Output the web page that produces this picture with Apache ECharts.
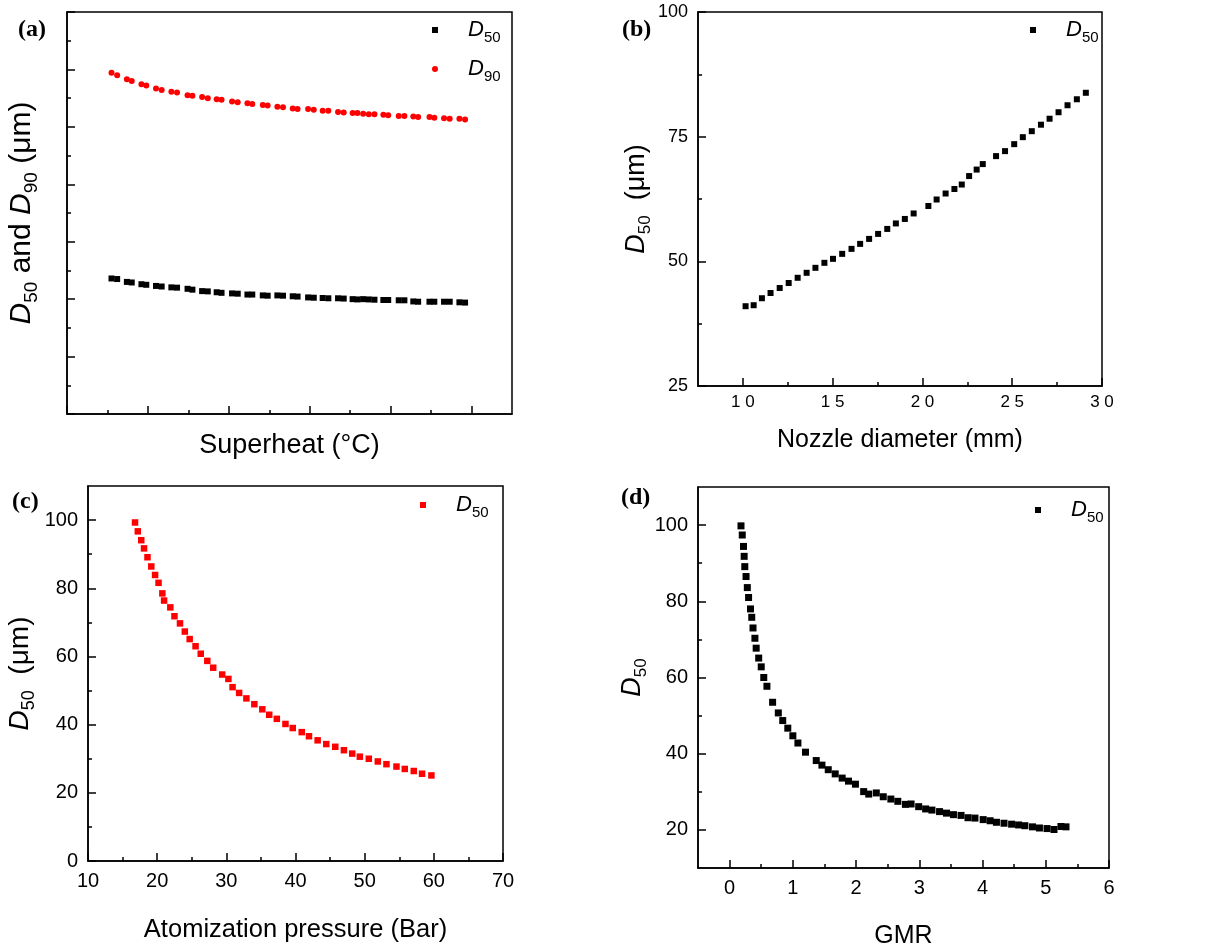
<!DOCTYPE html>
<html>
<head>
<meta charset="utf-8">
<script src="https://cdn.jsdelivr.net/npm/echarts@6/dist/echarts.min.js"></script>
<style>
  html, body { margin: 0; padding: 0; background: #fff; }
  #chart { width: 1215px; height: 950px; }
</style>
</head>
<body>
<div id="chart"></div>
<script>
// ---------------- DATA ----------------
// (a) Superheat (axis unlabelled in the original)
const superheatX = [5.5,6.2,7.4,8.0,9.2,9.8,11.0,11.7,12.9,13.6,14.9,15.5,16.7,17.4,18.5,19.1,20.4,21.1,22.3,22.9,24.2,24.8,26.0,26.7,27.9,28.5,29.8,30.5,31.6,32.3,33.5,34.2,35.3,35.9,36.6,37.3,38.0,39.1,39.7,41.0,41.7,42.8,43.4,44.8,45.4,46.6,47.3,48.5,49.2];
const d50Superheat = [23.6,23.5,23.0,22.9,22.6,22.5,22.3,22.2,22.05,22.0,21.8,21.65,21.4,21.35,21.2,21.1,21.0,20.95,20.8,20.8,20.65,20.6,20.65,20.6,20.5,20.45,20.3,20.25,20.2,20.15,20.15,20.1,20.0,19.95,20.0,19.95,19.9,19.85,19.85,19.8,19.8,19.6,19.55,19.55,19.55,19.55,19.55,19.45,19.4];
const d90Superheat = [59.4,59.0,58.3,58.0,57.4,57.2,56.7,56.4,56.1,56.0,55.5,55.4,55.2,55.0,54.8,54.7,54.4,54.3,54.1,54.0,53.8,53.7,53.5,53.4,53.2,53.1,53.1,53.0,52.8,52.8,52.6,52.5,52.4,52.4,52.3,52.2,52.2,52.1,52.0,51.9,51.9,51.8,51.7,51.7,51.6,51.5,51.4,51.4,51.3];
const superheatMajorX = [0,10,20,30,40,50];
const superheatMinorX = [5,15,25,35,45];
const superheatMajorY = [0,10,20,30,40,50,60,70];
const superheatMinorY = [5,15,25,35,45,55,65];

// (b) Nozzle diameter (mm)
const nozzleX = [1.015,1.06,1.106,1.154,1.205,1.255,1.305,1.355,1.404,1.454,1.502,1.553,1.605,1.653,1.703,1.753,1.804,1.852,1.902,1.951,2.033,2.079,2.129,2.178,2.219,2.26,2.302,2.336,2.41,2.46,2.511,2.559,2.609,2.66,2.708,2.758,2.808,2.86,2.91];
const d50Nozzle = [41.0,41.2,42.6,43.65,44.65,45.65,46.7,47.7,48.7,49.7,50.5,51.5,52.5,53.5,54.5,55.5,56.5,57.6,58.5,59.6,61.1,62.4,63.6,64.5,65.4,67.1,68.4,69.5,71.1,72.1,73.5,74.9,76.1,77.4,78.6,79.9,81.3,82.5,83.8];
const nozzleTicksX = [1.0,1.5,2.0,2.5,3.0];
const nozzleMinorX = [1.25,1.75,2.25,2.75];
const nozzleTicksY = [25,50,75,100];
const nozzleMinorY = [37.5,62.5,87.5];

// (c) Atomization pressure (Bar)
const pressureX = [16.8,17.2,17.7,18.1,18.6,19.15,19.7,20.2,20.75,21.0,21.9,22.5,23.3,24.0,24.7,25.55,26.3,27.25,28.1,29.4,30.3,30.9,31.85,32.9,34.05,35.2,36.2,37.3,38.55,39.6,40.9,41.95,43.2,44.45,45.75,47.0,48.2,49.3,50.6,51.9,53.15,54.6,55.8,57.1,58.3,59.65];
const d50Pressure = [99.3,96.7,94.1,91.7,89.1,86.4,83.9,81.6,78.5,76.4,74.4,71.8,69.7,67.3,65.1,63.0,60.8,58.7,56.7,54.7,53.4,51.0,49.3,47.7,46.0,44.5,42.9,41.7,40.2,39.0,37.8,36.6,35.4,34.3,33.5,32.5,31.5,30.6,30.0,29.2,28.4,27.7,27.0,26.4,25.6,25.1];
const pressureTicksX = [10,20,30,40,50,60,70];
const pressureMinorX = [15,25,35,45,55,65];
const pressureTicksY = [0,20,40,60,80,100];
const pressureMinorY = [10,30,50,70,90];

// (d) GMR
const gmrX = [0.18,0.2,0.22,0.23,0.24,0.26,0.28,0.3,0.33,0.35,0.37,0.4,0.42,0.46,0.5,0.54,0.59,0.68,0.77,0.84,0.92,1.0,1.08,1.2,1.37,1.46,1.56,1.67,1.78,1.88,1.99,2.12,2.2,2.32,2.43,2.55,2.66,2.78,2.87,2.99,3.1,3.2,3.32,3.43,3.54,3.66,3.77,3.88,4.01,4.12,4.22,4.34,4.46,4.57,4.67,4.79,4.9,5.02,5.13,5.24,5.32];
const d50Gmr = [99.8,97.4,94.4,91.8,89.1,86.5,83.6,81.0,78.0,75.8,73.0,70.3,67.7,65.1,62.8,60.0,57.7,53.5,50.7,48.7,46.7,44.7,42.8,40.4,38.2,37.0,35.8,34.7,33.6,32.8,32.0,30.05,29.4,29.7,28.7,28.1,27.5,26.7,26.8,26.1,25.5,25.2,24.8,24.4,24.0,23.8,23.2,23.1,22.7,22.4,22.0,21.75,21.5,21.3,21.1,20.8,20.5,20.35,20.1,20.9,20.8];
const gmrTicksX = [0,1,2,3,4,5,6];
const gmrMinorX = [0.5,1.5,2.5,3.5,4.5,5.5];
const gmrTicksY = [20,40,60,80,100];
const gmrMinorY = [30,50,70,90];

// ---------------- STYLE / LAYOUT ----------------
const SANS = "'Liberation Sans', Arial, sans-serif";
const SERIF = "'Liberation Serif', 'Times New Roman', serif";
const zip = (xs, ys) => xs.map((x, i) => [x, ys[i]]);

function richSet(S, SS, L, gap) {
  return {
    i: { fontFamily: SANS, fontStyle: 'italic', fontSize: S, lineHeight: L, color: '#000' },
    s: { fontFamily: SANS, fontSize: SS, lineHeight: SS, verticalAlign: 'bottom', color: '#000' },
    n: { fontFamily: SANS, fontSize: S, lineHeight: L, color: '#000' },
    g: { fontFamily: SANS, fontSize: SS, width: gap || 0, lineHeight: L }
  };
}

const panels = [
  { grid: { left: 67, top: 12, width: 445, height: 402 },
    x: { min: 0, max: 55, major: superheatMajorX, minor: superheatMinorX, labels: null,
         name: 'Superheat (°C)', nameGap: 18, nameStyle: { fontFamily: SANS, fontSize: 27, color: '#000' } },
    y: { min: 0, max: 70, major: superheatMajorY, minor: superheatMinorY, labels: null,
         name: '{i|D}{s|50}{n| and }{i|D}{s|90}{n| (μm)}', nameGap: 26, nameStyle: { rich: richSet(30, 19, 38) } } },
  { grid: { left: 698, top: 12, width: 404, height: 374 },
    x: { min: 0.75, max: 3.0, major: nozzleTicksX, minor: nozzleMinorX, labels: nozzleTicksX, fontSize: 17, margin: 8,
         fmt: v => Number(v).toFixed(1).replace('.', ' '),
         name: 'Nozzle diameter (mm)', nameGap: 42, nameStyle: { fontFamily: SANS, fontSize: 25, color: '#000' } },
    y: { min: 25, max: 100, major: nozzleTicksY, minor: nozzleMinorY, labels: nozzleTicksY, fontSize: 18, margin: 10,
         name: '{i|D}{s|50}{n|  (μm)}', nameGap: 42, nameStyle: { rich: richSet(27, 17, 35) } } },
  { grid: { left: 88, top: 486, width: 415, height: 375 },
    x: { min: 10, max: 70, major: pressureTicksX, minor: pressureMinorX, labels: pressureTicksX, fontSize: 20, margin: 10,
         name: 'Atomization pressure (Bar)', nameGap: 56, nameStyle: { fontFamily: SANS, fontSize: 25.5, color: '#000' } },
    y: { min: 0, max: 110, major: pressureTicksY, minor: pressureMinorY, labels: pressureTicksY, fontSize: 20, margin: 10,
         name: '{i|D}{s|50}{n|  (μm)}', nameGap: 50, nameStyle: { rich: richSet(28, 18, 36) } } },
  { grid: { left: 698, top: 487, width: 411, height: 382 },
    x: { min: -0.5, max: 6, major: gmrTicksX, minor: gmrMinorX, labels: gmrTicksX, fontSize: 20, margin: 10,
         name: 'GMR', nameGap: 56, nameStyle: { fontFamily: SANS, fontSize: 25, color: '#000' } },
    y: { min: 10, max: 110, major: gmrTicksY, minor: gmrMinorY, labels: gmrTicksY, fontSize: 20, margin: 10,
         name: '{i|D}{s|50}', nameGap: 48, nameStyle: { rich: richSet(27, 17, 35) } } }
];

const grids = [], xAxes = [], yAxes = [];
function axisPair(list, g, cfg, dim) {
  const pos = dim === 'x' ? 'bottom' : 'left';
  list.push({
    type: 'value', gridIndex: g, position: pos, min: cfg.min, max: cfg.max,
    axisLine: { show: true, onZero: false, lineStyle: { color: '#000', width: 1.5 } },
    axisTick: { show: true, inside: true, length: 8, customValues: cfg.major, lineStyle: { color: '#000', width: 1.5 } },
    axisLabel: cfg.labels ? { show: true, customValues: cfg.labels, margin: cfg.margin, fontSize: cfg.fontSize,
      fontFamily: SANS, color: '#000', formatter: cfg.fmt || (v => String(v)) } : { show: false },
    splitLine: { show: false },
    name: cfg.name, nameLocation: 'middle', nameGap: cfg.nameGap, nameTextStyle: cfg.nameStyle
  });
  list.push({
    type: 'value', gridIndex: g, position: pos, min: cfg.min, max: cfg.max,
    axisLine: { show: false, onZero: false },
    axisTick: { show: true, inside: true, length: 4, customValues: cfg.minor, lineStyle: { color: '#000', width: 1.5 } },
    axisLabel: { show: false }, splitLine: { show: false }
  });
}
panels.forEach((p, g) => {
  grids.push(Object.assign({ show: true, borderColor: '#000', borderWidth: 1.5, backgroundColor: 'transparent' }, p.grid));
  axisPair(xAxes, g, p.x, 'x');
  axisPair(yAxes, g, p.y, 'y');
});

const series = [
  { name: 'D50 a', type: 'scatter', xAxisIndex: 0, yAxisIndex: 0, symbol: 'rect', symbolSize: 6,
    itemStyle: { color: '#000', opacity: 1 }, data: zip(superheatX, d50Superheat) },
  { name: 'D90 a', type: 'scatter', xAxisIndex: 0, yAxisIndex: 0, symbol: 'circle', symbolSize: 6,
    itemStyle: { color: '#ff0000', opacity: 1 }, data: zip(superheatX, d90Superheat) },
  { name: 'D50 b', type: 'scatter', xAxisIndex: 2, yAxisIndex: 2, symbol: 'rect', symbolSize: 6,
    itemStyle: { color: '#000', opacity: 1 }, data: zip(nozzleX, d50Nozzle) },
  { name: 'D50 c', type: 'scatter', xAxisIndex: 4, yAxisIndex: 4, symbol: 'rect', symbolSize: 6.5,
    itemStyle: { color: '#ff0000', opacity: 1 }, data: zip(pressureX, d50Pressure) },
  { name: 'D50 d', type: 'scatter', xAxisIndex: 6, yAxisIndex: 6, symbol: 'rect', symbolSize: 7,
    itemStyle: { color: '#000', opacity: 1 }, data: zip(gmrX, d50Gmr) }
];

const legendRich = richSet(22, 15, 30, 25);
const legendFmt = name => '{g| }{i|D}{s|' + name.slice(1, 3) + '}';
function legendAt(left, top, items) {
  return { left, top, orient: 'vertical', padding: 0, itemWidth: 6, itemHeight: 6, itemGap: 13,
    selectedMode: false, data: items, formatter: legendFmt, textStyle: { rich: legendRich } };
}
const legends = [
  legendAt(432, 19, [{ name: 'D50 a', icon: 'rect' }, { name: 'D90 a', icon: 'circle' }]),
  legendAt(1030, 19, [{ name: 'D50 b', icon: 'rect' }]),
  legendAt(420, 494, [{ name: 'D50 c', icon: 'rect' }]),
  legendAt(1035, 499, [{ name: 'D50 d', icon: 'rect' }])
];

const panelLetters = [
  { text: '(a)', left: 18, top: 18 },
  { text: '(b)', left: 622, top: 18 },
  { text: '(c)', left: 12, top: 490 },
  { text: '(d)', left: 621, top: 486 }
];

const chart = echarts.init(document.getElementById('chart'), null, { renderer: 'canvas' });
chart.setOption({
  backgroundColor: '#fff',
  animation: false,
  grid: grids,
  xAxis: xAxes,
  yAxis: yAxes,
  legend: legends,
  series: series,
  graphic: panelLetters.map(t => ({
    type: 'text', left: t.left, top: t.top,
    style: { text: t.text, font: 'bold 24px ' + SERIF, fill: '#000' }
  }))
});
</script>
</body>
</html>
